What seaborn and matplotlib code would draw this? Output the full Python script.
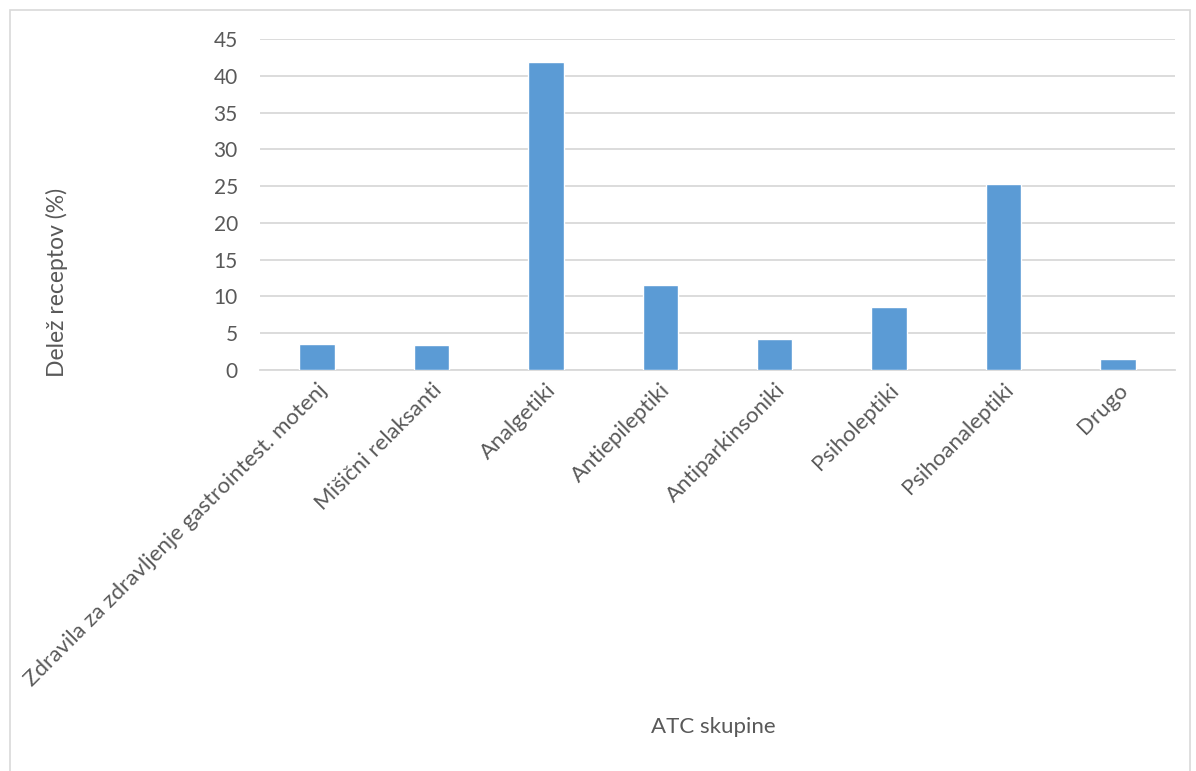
import matplotlib
matplotlib.use("Agg")
import matplotlib.pyplot as plt
import seaborn as sns
import pandas as pd
from matplotlib.patches import Rectangle

categories = [
    "Zdravila za zdravljenje gastrointest. motenj",
    "Mišični relaksanti",
    "Analgetiki",
    "Antiepileptiki",
    "Antiparkinsoniki",
    "Psiholeptiki",
    "Psihoanaleptiki",
    "Drugo",
]
values = [3.6, 3.4, 41.9, 11.5, 4.2, 8.6, 25.3, 1.5]
yticks = [0, 5, 10, 15, 20, 25, 30, 35, 40, 45]

sns.set_theme(style="white")
plt.rcParams['font.family'] = ['Lato', 'DejaVu Sans']

df = pd.DataFrame({"cat": categories, "val": values})

W, H = 1196, 771
fig = plt.figure(figsize=(W / 100, H / 100), dpi=100)
ax = fig.add_axes([260 / W, 1 - 370 / H, (1175 - 260) / W, (370 - 39) / H])

sns.barplot(data=df, x="cat", y="val", color="#5b9bd5", width=0.31,
            saturation=1, ax=ax, zorder=3)

ax.set_ylim(0, 45)
ax.set_yticks(yticks)
ax.set_xlim(-0.5, len(categories) - 0.5)
ax.yaxis.grid(True, color="#d9d9d9", linewidth=1.3, zorder=0)
ax.xaxis.grid(False)
for s in ["top", "right", "left"]:
    ax.spines[s].set_visible(False)
ax.spines["bottom"].set_color("#d9d9d9")
ax.spines["bottom"].set_linewidth(1.3)
ax.tick_params(axis="y", length=0, colors="#595959", labelsize=15, pad=16)
ax.tick_params(axis="x", length=0, colors="#595959", labelsize=16, pad=7)
plt.setp(ax.get_xticklabels(), rotation=45, ha="right", rotation_mode="anchor")
ax.set_xlabel("")
ax.set_ylabel("")

fig.text(713 / W, 1 - 727 / H, "ATC skupine", ha="center", va="center",
         fontsize=16, color="#595959")
fig.text(57 / W, 1 - 282 / H, "Delež receptov (%)", ha="center", va="center",
         rotation=90, fontsize=16.5, color="#595959")

fig.patches.append(Rectangle((10 / W, -0.02), (1190 - 10) / W, 1.02 - 10 / H,
                             transform=fig.transFigure, fill=False,
                             edgecolor="#d9d9d9", linewidth=1.2))

fig.savefig("out.png", dpi=100, facecolor="white")
